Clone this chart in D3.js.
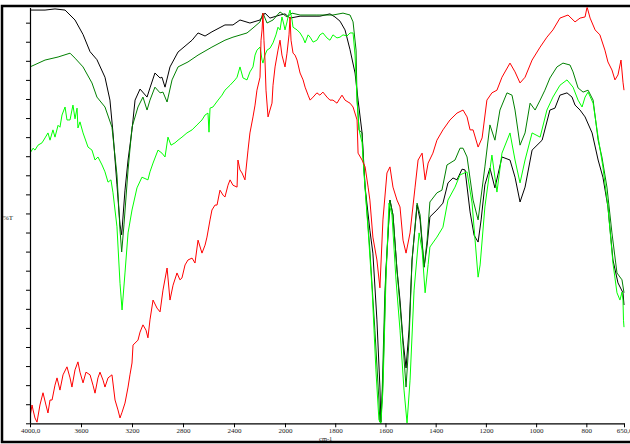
<!DOCTYPE html>
<html>
<head>
<meta charset="utf-8">
<script src="https://cdn.jsdelivr.net/npm/d3@7"></script>
<style>
	body { margin: 0; background: #fff; }
	svg { display: block; font-family: "Liberation Serif", "DejaVu Serif", serif; }
</style>
</head>
<body>
<script>
// wavenumber ticks along the bottom (scale changes at 2000 cm-1)
var xTicks = [4000, 3600, 3200, 2800, 2400, 2000, 1800, 1600, 1400, 1200, 1000, 800, 650];
var yTicks = d3.range(0, 106, 5);

// spectra, [cm-1, %T]
var black = [
	[4000,108.3],[3882,108.3],[3804,108.6],[3725,108.3],[3647,105.7],[3584,101.9],[3529,97.4],
	[3475,95.3],[3412,90.7],[3373,84.7],[3349,76.1],[3318,62.5],[3294,52.0],[3281,49.4],[3255,61.1],
	[3231,69.0],[3200,76.9],[3176,84.7],[3137,87.6],[3082,85.5],[3059,87.9],[3020,91.8],[2980,90.5],
	[2965,90.7],[2941,88.1],[2902,93.4],[2839,97.3],[2729,100.4],[2682,102.3],[2627,101.5],[2573,102.6],
	[2471,104.4],[2408,104.4],[2353,105.7],[2275,104.9],[2196,105.7],[2157,107.5],[2118,106.2],[2039,107.0],
	[2000,107.3],[1980,106.2],[1940,106.7],[1861,106.7],[1821,107.3],[1801,106.5],[1781,105.4],[1761,103.1],
	[1741,97.9],[1721,91.8],[1709,84.7],[1693,76.1],[1681,61.9],[1662,50.6],[1650,44.6],[1634,27.1],
	[1622,9.5],[1618,0.3],[1610,11.3],[1598,40.2],[1582,58.5],[1570,54.6],[1554,40.2],[1542,32.3],
	[1530,21.8],[1518,14.5],[1506,24.5],[1494,42.8],[1474,57.2],[1462,53.3],[1446,40.9],[1434,46.7],
	[1423,54.1],[1395,55.9],[1371,57.7],[1351,63.0],[1331,64.3],[1315,63.8],[1295,66.6],[1283,66.4],
	[1263,55.4],[1247,49.3],[1231,47.5],[1219,53.3],[1204,62.5],[1184,66.9],[1164,61.7],[1136,69.8],
	[1104,69.0],[1084,64.5],[1064,58.0],[1044,61.9],[1016,71.6],[976,74.2],[945,82.1],[925,82.6],
	[905,86.0],[877,86.6],[857,85.5],[845,83.4],[825,82.1],[805,80.3],[777,76.1],[753,69.0],
	[734,64.5],[714,56.7],[694,42.8],[674,36.8],[654,34.2],[650,31.0]
];

var darkGreen = [
	[4000,93.4],[3882,95.2],[3780,96.0],[3686,97.0],[3647,95.7],[3584,93.4],[3514,89.2],[3475,85.5],
	[3412,82.9],[3357,77.6],[3318,65.1],[3294,50.7],[3281,44.9],[3263,52.0],[3231,66.4],[3200,77.6],
	[3153,82.9],[3114,85.5],[3082,82.1],[3059,84.7],[3020,88.1],[2980,86.6],[2957,86.8],[2925,84.2],
	[2886,90.0],[2839,93.4],[2761,94.7],[2682,96.5],[2573,98.6],[2471,100.4],[2408,101.2],[2298,102.3],
	[2251,103.6],[2196,105.2],[2173,107.5],[2141,104.9],[2094,105.7],[2039,107.8],[1992,106.5],[1972,107.5],
	[1940,107.0],[1873,107.0],[1809,107.0],[1769,107.5],[1741,107.0],[1729,105.2],[1717,97.8],[1713,84.7],
	[1705,76.9],[1693,76.1],[1689,69.8],[1681,61.9],[1662,45.4],[1642,24.4],[1626,6.1],[1622,0.3],
	[1614,6.1],[1602,34.9],[1582,58.5],[1570,54.6],[1554,40.2],[1534,24.4],[1518,9.5],[1506,21.8],
	[1494,42.8],[1474,57.7],[1462,54.6],[1446,41.0],[1434,48.0],[1423,58.0],[1395,60.4],[1375,61.1],
	[1355,67.7],[1323,69.0],[1303,72.1],[1291,72.1],[1275,69.8],[1251,58.5],[1231,53.3],[1204,67.2],
	[1184,78.2],[1164,74.2],[1144,82.1],[1116,86.6],[1096,86.0],[1084,82.1],[1064,72.9],[1044,76.1],
	[1024,83.9],[1004,82.1],[984,84.7],[965,87.3],[945,90.5],[917,93.4],[893,94.4],[865,93.9],
	[853,92.1],[833,87.9],[813,86.8],[793,87.3],[773,84.7],[753,74.2],[738,69.8],[718,61.9],
	[698,49.9],[678,39.4],[658,37.6],[650,34.2]
];

var lightGreen = [
	[4000,70.8],[3976,72.1],[3961,71.6],[3937,72.9],[3906,73.5],[3882,74.8],[3859,76.1],[3843,74.2],
	[3820,76.9],[3804,75.0],[3780,78.1],[3765,77.6],[3749,80.8],[3725,82.9],[3710,79.5],[3686,79.5],
	[3671,82.1],[3663,83.4],[3647,79.8],[3631,82.6],[3624,77.4],[3608,79.0],[3584,76.1],[3545,72.4],
	[3514,71.6],[3490,69.0],[3467,69.8],[3435,67.7],[3412,65.9],[3388,63.2],[3365,63.8],[3349,60.4],
	[3318,51.5],[3294,36.7],[3278,29.7],[3255,39.4],[3231,49.9],[3200,55.9],[3161,61.7],[3122,64.5],
	[3075,63.8],[3059,65.9],[3035,68.2],[2996,71.6],[2965,70.8],[2941,69.8],[2918,75.0],[2894,72.9],
	[2863,73.5],[2839,74.2],[2808,75.0],[2769,76.1],[2729,76.9],[2690,78.2],[2651,79.5],[2627,80.8],
	[2604,81.3],[2596,76.3],[2588,82.6],[2565,82.9],[2525,84.7],[2494,86.0],[2471,87.3],[2431,88.6],
	[2392,90.0],[2376,90.7],[2353,93.4],[2329,90.5],[2298,90.0],[2275,92.1],[2251,93.4],[2235,96.5],
	[2220,97.8],[2196,98.6],[2180,95.2],[2173,94.4],[2157,96.5],[2141,97.8],[2118,98.3],[2094,99.7],
	[2071,101.8],[2055,103.8],[2039,103.1],[2024,106.5],[2008,104.4],[2000,103.1],[1992,105.2],[1988,106.5],
	[1980,108.3],[1972,105.7],[1968,103.8],[1952,103.1],[1940,102.3],[1928,101.0],[1920,99.7],[1908,101.8],
	[1900,101.2],[1888,99.9],[1873,100.4],[1861,101.8],[1849,102.3],[1833,101.0],[1821,100.4],[1809,101.8],
	[1793,101.0],[1781,101.2],[1769,101.8],[1753,101.5],[1741,102.3],[1729,102.3],[1721,96.5],[1713,84.7],
	[1705,76.9],[1693,73.5],[1685,65.1],[1669,50.7],[1653,34.9],[1638,14.0],[1626,0.9],[1618,0.0],
	[1610,8.7],[1598,37.6],[1586,57.7],[1574,54.6],[1558,37.6],[1542,24.4],[1526,8.7],[1514,0.1],
	[1502,11.3],[1486,34.9],[1466,49.9],[1454,45.4],[1442,34.2],[1430,41.6],[1423,46.2],[1395,48.8],
	[1371,51.4],[1351,58.5],[1323,61.9],[1303,65.1],[1275,65.9],[1255,57.7],[1243,48.0],[1231,38.3],
	[1223,41.5],[1204,56.7],[1176,70.3],[1156,60.6],[1136,70.8],[1104,76.1],[1084,69.0],[1064,63.0],
	[1044,69.0],[1016,76.1],[984,75.0],[957,82.1],[933,85.5],[905,88.6],[877,90.0],[853,88.1],
	[833,84.7],[817,82.9],[805,85.5],[793,86.8],[773,83.9],[753,75.0],[734,67.2],[714,56.7],
	[694,42.0],[678,34.2],[666,32.3],[658,34.4],[654,32.3],[652,27.0],[650,25.2]
];

var red = [
	[4000,1.7],[3984,4.8],[3976,3.5],[3961,1.4],[3945,0.3],[3922,4.8],[3898,8.0],[3875,4.8],
	[3859,2.7],[3843,6.1],[3827,6.1],[3804,10.0],[3788,11.9],[3765,8.7],[3741,12.7],[3710,14.8],
	[3686,11.9],[3671,9.5],[3647,14.0],[3624,16.1],[3608,13.4],[3584,10.6],[3561,13.4],[3529,12.7],
	[3506,10.0],[3490,7.9],[3467,11.9],[3451,13.4],[3427,11.3],[3412,9.5],[3388,11.9],[3357,12.7],
	[3333,6.1],[3310,3.5],[3294,1.4],[3278,2.9],[3255,5.3],[3231,9.5],[3216,12.7],[3200,15.8],
	[3192,20.5],[3153,21.8],[3137,23.9],[3114,25.8],[3090,24.4],[3075,22.4],[3059,27.1],[3035,32.3],
	[3004,30.2],[2980,29.2],[2957,34.9],[2925,40.7],[2902,32.3],[2878,36.2],[2847,39.4],[2824,37.6],
	[2808,38.1],[2784,41.5],[2761,42.8],[2729,43.3],[2706,42.0],[2682,48.0],[2651,44.6],[2627,46.7],
	[2612,48.8],[2588,53.3],[2573,55.9],[2549,57.2],[2533,57.2],[2510,61.1],[2486,59.8],[2471,59.3],
	[2447,62.4],[2431,63.8],[2408,62.4],[2376,61.9],[2369,69.0],[2353,66.4],[2337,65.6],[2314,63.8],
	[2290,71.6],[2275,76.1],[2251,80.3],[2235,83.4],[2220,87.3],[2196,90.7],[2188,100.4],[2180,103.1],
	[2173,107.5],[2165,100.4],[2157,95.2],[2149,87.3],[2133,80.3],[2118,82.1],[2102,83.9],[2094,88.6],
	[2078,93.4],[2055,97.8],[2039,100.4],[2024,96.5],[2000,93.4],[1992,97.0],[1984,101.8],[1980,106.5],
	[1976,100.4],[1968,97.0],[1960,96.5],[1952,95.2],[1940,91.8],[1928,90.0],[1920,88.1],[1908,86.0],
	[1900,84.7],[1888,85.5],[1873,86.6],[1861,86.0],[1849,86.8],[1833,85.5],[1821,84.7],[1809,84.7],
	[1793,83.9],[1781,85.2],[1773,86.0],[1761,84.7],[1749,84.2],[1741,83.9],[1729,82.9],[1713,79.5],
	[1709,70.8],[1693,69.0],[1681,67.2],[1669,61.9],[1662,58.5],[1650,48.8],[1634,42.8],[1622,35.5],
	[1610,53.3],[1594,65.6],[1582,67.2],[1570,61.9],[1554,58.5],[1542,56.7],[1530,48.0],[1518,44.6],
	[1502,49.9],[1482,61.9],[1470,69.0],[1454,70.8],[1442,63.8],[1430,68.2],[1411,70.8],[1395,74.2],
	[1371,76.9],[1343,79.5],[1315,81.3],[1291,82.1],[1275,80.3],[1263,76.9],[1251,76.9],[1231,72.4],
	[1215,74.8],[1196,84.7],[1176,86.6],[1156,87.3],[1136,90.7],[1104,94.4],[1084,92.1],[1064,89.2],
	[1044,90.7],[1016,95.2],[984,98.6],[957,101.2],[933,103.1],[905,106.2],[873,107.0],[845,105.2],
	[825,106.2],[805,106.5],[797,109.1],[785,106.2],[765,103.1],[746,101.8],[726,97.8],[714,94.7],
	[698,92.6],[686,90.0],[674,91.3],[662,95.2],[654,89.4],[650,87.3]
];

var series = [
	{name: 'black', color: '#000000', values: black},
	{name: 'darkGreen', color: '#008000', values: darkGreen},
	{name: 'lightGreen', color: '#00ff00', values: lightGreen},
	{name: 'red', color: '#ff0000', values: red}
];

var width = 630, height = 444;

var x = d3.scaleLinear()
	.domain([4000, 2000, 650])
	.range([30, 285, 624]);

var y = d3.scaleLinear()
	.domain([0, 109])
	.range([423.3, 7.4]);

var svg = d3.select('body')
	.append('svg')
	.attr('width', width)
	.attr('height', height);

// outer frame, its right side runs off the picture
svg.append('rect')
	.attr('x', 2)
	.attr('y', 6)
	.attr('width', 660)
	.attr('height', 436)
	.attr('fill', 'none')
	.attr('stroke', '#000')
	.attr('stroke-width', 2.5);

svg.append('clipPath')
	.attr('id', 'plot')
	.append('rect')
	.attr('x', 30)
	.attr('y', 7.4)
	.attr('width', 596)
	.attr('height', 416.5);

var line = d3.line()
	.x(function(d) { return x(d[0]); })
	.y(function(d) { return y(d[1]); });

svg.append('g')
	.attr('clip-path', 'url(#plot)')
	.selectAll('path')
	.data(series)
	.enter()
	.append('path')
	.attr('d', function(d) { return line(d.values); })
	.attr('fill', 'none')
	.attr('stroke', function(d) { return d.color; })
	.attr('stroke-width', 1)
	.attr('stroke-linejoin', 'round');

var xAxis = d3.axisBottom(x)
	.tickValues(xTicks)
	.tickSize(4)
	.tickSizeOuter(0)
	.tickFormat(function(d) { return (d == 4000 || d == 650) ? d + ',0' : d; });

var gx = svg.append('g')
	.attr('transform', 'translate(0,' + y(0) + ')')
	.call(xAxis);
gx.select('.domain').attr('stroke-width', 1.2);
gx.selectAll('text')
	.attr('font-family', '"Liberation Serif", serif')
	.attr('font-size', 7)
	.attr('fill', '#222')
	.attr('y', 5)
	.attr('dy', '0.71em');

var yAxis = d3.axisLeft(y)
	.tickValues(yTicks)
	.tickSize(4)
	.tickSizeOuter(0)
	.tickFormat('');

var gy = svg.append('g')
	.attr('transform', 'translate(' + x(4000) + ',0)')
	.call(yAxis);
gy.select('.domain').attr('stroke-width', 1.2);

svg.append('text')
	.attr('x', 3)
	.attr('y', 220)
	.attr('font-size', 7)
	.attr('fill', '#222')
	.text('%T');

svg.append('text')
	.attr('x', 319)
	.attr('y', 440.5)
	.attr('font-size', 6.5)
	.attr('fill', '#222')
	.text('cm-1');
</script>
</body>
</html>
